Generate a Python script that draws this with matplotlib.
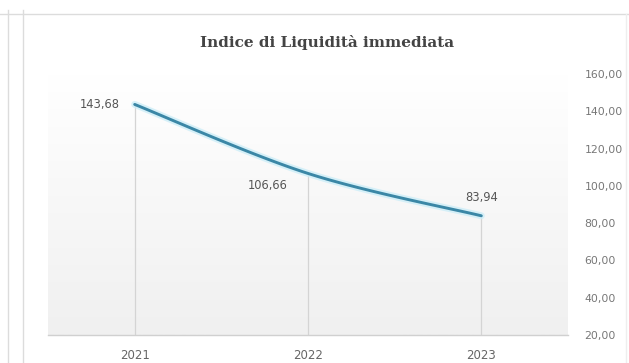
import numpy as np
import matplotlib
matplotlib.use("Agg")
import matplotlib.pyplot as plt
from matplotlib.lines import Line2D
from matplotlib.colors import LinearSegmentedColormap

years = ["2021", "2022", "2023"]
values = [143.68, 106.66, 83.94]
value_labels = ["143,68", "106,66", "83,94"]
y_ticks = [20, 40, 60, 80, 100, 120, 140, 160]
y_tick_labels = ["20,00", "40,00", "60,00", "80,00", "100,00", "120,00", "140,00", "160,00"]
title = "Indice di Liquidità immediata"

W, H = 629, 363
fig = plt.figure(figsize=(W / 100, H / 100), dpi=100)
fig.patch.set_facecolor("white")

# panel borders
border = "#dcdcdc"
fig.add_artist(Line2D([0, 1], [1 - 14 / H, 1 - 14 / H], transform=fig.transFigure, color=border, lw=1))
for xp in (8, 23):
    fig.add_artist(Line2D([xp / W, xp / W], [0, 1 - 10 / H], transform=fig.transFigure, color=border, lw=1))
fig.add_artist(Line2D([626 / W, 626 / W], [0, 1 - 14 / H], transform=fig.transFigure, color="#eeeeee", lw=1))

left, right, top, bottom = 48, 568, 74, 335
ax = fig.add_axes([left / W, 1 - bottom / H, (right - left) / W, (bottom - top) / H])
x = np.arange(len(years))

# vertical gradient background: white at top, light grey at the bottom
grad = np.linspace(0, 1, 256).reshape(-1, 1)
cmap = LinearSegmentedColormap.from_list("bg", ["#ffffff", "#f0f0f0"])
ax.imshow(grad, aspect="auto", cmap=cmap, extent=(-0.5, len(years) - 0.5, 20, 160),
          origin="upper", zorder=0)
ax.set_xlim(-0.5, len(years) - 0.5)
ax.set_ylim(20, 160)

# drop lines
for xi, v in zip(x, values):
    ax.plot([xi, xi], [20, v], color="#d4d4d4", lw=0.9, zorder=1)


def smooth(xs, ys, n=60):
    # Bezier smoothing through the points (tangents from neighbours)
    xs = np.asarray(xs, float)
    ys = np.asarray(ys, float)
    px, py = [], []
    for i in range(len(xs) - 1):
        p0 = np.array([xs[max(i - 1, 0)], ys[max(i - 1, 0)]])
        p1 = np.array([xs[i], ys[i]])
        p2 = np.array([xs[i + 1], ys[i + 1]])
        p3 = np.array([xs[min(i + 2, len(xs) - 1)], ys[min(i + 2, len(xs) - 1)]])
        c1 = p1 + (p2 - p0) / 6
        c2 = p2 - (p3 - p1) / 6
        t = np.linspace(0, 1, n)[:, None]
        seg = ((1 - t) ** 3) * p1 + 3 * ((1 - t) ** 2) * t * c1 + 3 * (1 - t) * t ** 2 * c2 + t ** 3 * p2
        px.extend(seg[:, 0])
        py.extend(seg[:, 1])
    return np.array(px), np.array(py)


sx, sy = smooth(x, values)
ax.plot(sx, sy, color="#cdeef8", lw=5, alpha=0.8, solid_capstyle="round", zorder=2)
ax.plot(sx, sy, color="#3b87a6", lw=2.1, solid_capstyle="round", zorder=3)

# value labels
lab_kw = dict(fontsize=8.3, color="#555555", family="DejaVu Sans", zorder=4)
ax.annotate(value_labels[0], (x[0], values[0]), xytext=(-11, 0), textcoords="offset points",
            ha="right", va="center", **lab_kw)
ax.annotate(value_labels[1], (x[1], values[1]), xytext=(-29, -9), textcoords="offset points",
            ha="center", va="center", **lab_kw)
ax.annotate(value_labels[2], (x[2], values[2]), xytext=(0, 13), textcoords="offset points",
            ha="center", va="center", **lab_kw)

# axes styling
for s in ("top", "left", "right"):
    ax.spines[s].set_visible(False)
ax.spines["bottom"].set_color("#d0d0d0")
ax.spines["bottom"].set_linewidth(1.0)
ax.set_xticks(x)
ax.set_xticklabels(years)
ax.yaxis.tick_right()
ax.set_yticks(y_ticks)
ax.set_yticklabels(y_tick_labels)
ax.tick_params(axis="x", length=0, pad=10, labelsize=8.5, labelcolor="#666666")
ax.tick_params(axis="y", length=0, pad=12, labelsize=7.8, labelcolor="#777777")

fig.text(327 / W, 1 - 42 / H, title, ha="center", va="center", fontsize=11,
         family="DejaVu Serif", fontweight="bold", color="#444444")

fig.savefig("out.png", dpi=100, facecolor="white")
